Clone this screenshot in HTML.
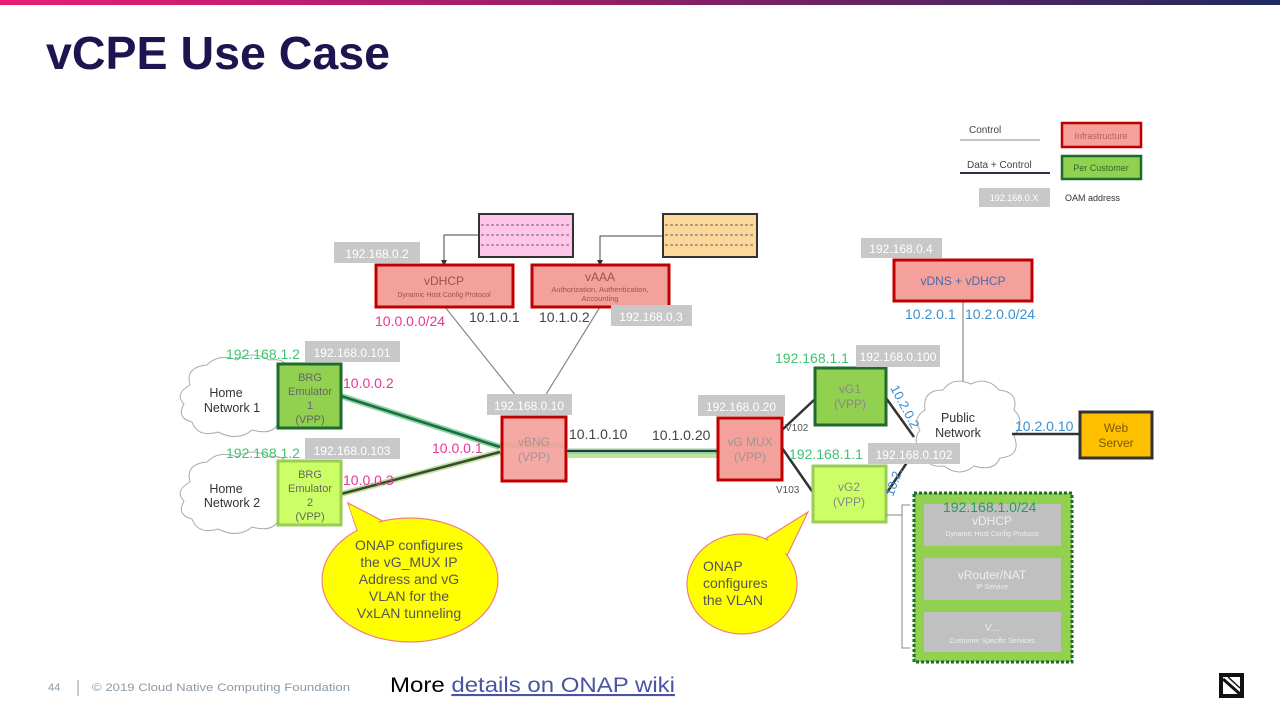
<!DOCTYPE html>
<html><head><meta charset="utf-8"><style>
body{margin:0;background:#fff}
svg{display:block;font-family:"Liberation Sans",sans-serif}
</style></head><body>
<svg width="1280" height="720" viewBox="0 0 1280 720" xmlns="http://www.w3.org/2000/svg">
<defs>
<linearGradient id="tb" x1="0" x2="1"><stop offset="0" stop-color="#e91e76"/><stop offset="0.5" stop-color="#8c1f64"/><stop offset="1" stop-color="#1f2a5e"/></linearGradient>
<marker id="ar" markerWidth="6" markerHeight="6" refX="3" refY="3" orient="auto"><path d="M0,0L6,3L0,6z" fill="#333"/></marker>
</defs>
<rect x="0" y="0" width="1280" height="5" fill="url(#tb)"/>
<text x="46" y="69" font-size="46" font-weight="bold" fill="#1f1450" textLength="344" lengthAdjust="spacingAndGlyphs">vCPE Use Case</text>

<!-- legend -->
<text x="969" y="133" font-size="10" fill="#444">Control</text>
<line x1="960" y1="140" x2="1040" y2="140" stroke="#888" stroke-width="1"/>
<text x="967" y="168" font-size="10" fill="#444">Data + Control</text>
<line x1="960" y1="173" x2="1050" y2="173" stroke="#2d2d50" stroke-width="2"/>
<rect x="1062" y="123" width="79" height="24" fill="#f4a09b" stroke="#c00000" stroke-width="2.5"/>
<text x="1101" y="139" font-size="9" fill="#c06060" text-anchor="middle">Infrastructure</text>
<rect x="1062" y="156" width="79" height="23" fill="#92d050" stroke="#1e6b2e" stroke-width="2.5"/>
<text x="1101" y="171" font-size="9" fill="#2d6b2d" text-anchor="middle">Per Customer</text>
<rect x="979" y="188" width="71" height="19" fill="#c8c8c8"/>
<text x="1014" y="201" font-size="9" fill="#fff" text-anchor="middle">192.168.0.X</text>
<text x="1065" y="201" font-size="9" fill="#333">OAM address</text>

<!-- top boxes -->
<rect x="479" y="214" width="94" height="43" fill="#ffc6ea" stroke="#333" stroke-width="2"/>
<g stroke="#666" stroke-dasharray="3,2"><line x1="481" y1="225" x2="571" y2="225"/><line x1="481" y1="235" x2="571" y2="235"/><line x1="481" y1="245" x2="571" y2="245"/></g>
<rect x="663" y="214" width="94" height="43" fill="#fcd89a" stroke="#333" stroke-width="2"/>
<g stroke="#666" stroke-dasharray="3,2"><line x1="665" y1="225" x2="755" y2="225"/><line x1="665" y1="235" x2="755" y2="235"/><line x1="665" y1="245" x2="755" y2="245"/></g>
<polyline points="479,235 444,235 444,263" fill="none" stroke="#444" stroke-width="1" marker-end="url(#ar)"/>
<polyline points="663,236 600,236 600,263" fill="none" stroke="#444" stroke-width="1" marker-end="url(#ar)"/>

<!-- control lines -->
<g stroke="#888" stroke-width="1.2">
<line x1="445" y1="307" x2="516" y2="396"/>
<line x1="600" y1="307" x2="545" y2="396"/>
<line x1="963" y1="301" x2="963" y2="392"/>
</g>

<rect x="376" y="265" width="137" height="42" fill="#f4a09b" stroke="#c00000" stroke-width="3"/>
<text x="444" y="285" font-size="12" fill="#a05050" text-anchor="middle">vDHCP</text>
<text x="444" y="297" font-size="7" fill="#a05050" text-anchor="middle">Dynamic Host Config Protocol</text>
<rect x="532" y="265" width="137" height="42" fill="#f4a09b" stroke="#c00000" stroke-width="3"/>
<text x="600" y="281" font-size="12" fill="#a05050" text-anchor="middle">vAAA</text>
<text x="600" y="292" font-size="7.5" fill="#a05050" text-anchor="middle">Authorization, Authentication,</text>
<text x="600" y="301" font-size="7.5" fill="#a05050" text-anchor="middle">Accounting</text>
<rect x="334" y="242" width="86" height="21" fill="#c8c8c8"/>
<text x="377" y="258" font-size="12" fill="#fff" text-anchor="middle">192.168.0.2</text>
<rect x="611" y="305" width="81" height="21" fill="#c8c8c8"/>
<text x="651" y="321" font-size="12" fill="#fff" text-anchor="middle">192.168.0.3</text>
<text x="375" y="326" font-size="14" fill="#e8359a">10.0.0.0/24</text>
<text x="469" y="322" font-size="14" fill="#444">10.1.0.1</text>
<text x="539" y="322" font-size="14" fill="#444">10.1.0.2</text>

<rect x="894" y="260" width="138" height="41" fill="#f4a09b" stroke="#c00000" stroke-width="3"/>
<text x="963" y="285" font-size="12" fill="#4a6aa8" text-anchor="middle">vDNS + vDHCP</text>
<rect x="861" y="238" width="81" height="20" fill="#c8c8c8"/>
<text x="901" y="253" font-size="12" fill="#fff" text-anchor="middle">192.168.0.4</text>
<text x="905" y="319" font-size="14" fill="#3b8fd0">10.2.0.1</text>
<text x="965" y="319" font-size="14" fill="#3b8fd0">10.2.0.0/24</text>

<!-- clouds -->
<g fill="#fff" stroke="#aaa" stroke-width="1">
<path d="M190,385 q-5,-18 17,-20 q12,-12 30,-5 q15,-10 32,0 q22,-3 20,18 q12,8 2,22 q8,18 -12,22 q-6,14 -27,8 q-14,12 -34,2 q-20,6 -26,-10 q-16,-4 -8,-18 q-10,-10 6,-19z"/>
<path d="M190,482 q-5,-18 17,-20 q12,-12 30,-5 q15,-10 32,0 q22,-3 20,18 q12,8 2,22 q8,18 -12,22 q-6,14 -27,8 q-14,12 -34,2 q-20,6 -26,-10 q-16,-4 -8,-18 q-10,-10 6,-19z"/>
<path d="M925,410 q-3,-20 18,-20 q10,-14 28,-6 q16,-8 28,6 q20,2 15,20 q12,12 0,26 q8,20 -14,22 q-6,14 -26,8 q-14,12 -30,0 q-20,2 -18,-14 q-16,-8 -6,-22 q-8,-12 5,-20z"/>
</g>
<text x="226" y="397" font-size="12.5" fill="#333" text-anchor="middle">Home</text>
<text x="232" y="412" font-size="12.5" fill="#333" text-anchor="middle">Network 1</text>
<text x="226" y="493" font-size="12.5" fill="#333" text-anchor="middle">Home</text>
<text x="232" y="507" font-size="12.5" fill="#333" text-anchor="middle">Network 2</text>
<text x="958" y="422" font-size="12.5" fill="#333" text-anchor="middle">Public</text>
<text x="958" y="437" font-size="12.5" fill="#333" text-anchor="middle">Network</text>

<!-- data lines -->
<line x1="568" y1="452" x2="717" y2="452" stroke="#8ad4a8" stroke-width="7"/>
<line x1="568" y1="456" x2="717" y2="456" stroke="#bfe3a0" stroke-width="4"/>
<line x1="566" y1="451" x2="717" y2="451" stroke="#333" stroke-width="2"/>
<line x1="341" y1="396" x2="500" y2="447" stroke="#8ad4a8" stroke-width="6"/>
<line x1="341" y1="396" x2="500" y2="447" stroke="#1e6b3e" stroke-width="2.5"/>
<line x1="341" y1="494" x2="500" y2="452" stroke="#bfe3a0" stroke-width="6"/>
<line x1="341" y1="494" x2="500" y2="452" stroke="#3a4a30" stroke-width="2.5"/>
<line x1="500" y1="445" x2="566" y2="445" stroke="#8ad4a8" stroke-width="6" opacity=".8"/>
<g stroke="#333" stroke-width="2.5">
<line x1="782" y1="430" x2="814" y2="400"/>
<line x1="782" y1="448" x2="814" y2="494"/>
<line x1="886" y1="398" x2="914" y2="437"/>
<line x1="886" y1="494" x2="912" y2="455"/>
<line x1="1012" y1="434" x2="1080" y2="434"/>
</g>

<!-- BRG -->
<rect x="278" y="364" width="63" height="64" fill="#92d050" stroke="#1e6b2e" stroke-width="3"/>
<text x="310" y="381" font-size="11" fill="#666" text-anchor="middle">BRG</text>
<text x="310" y="395" font-size="11" fill="#666" text-anchor="middle">Emulator</text>
<text x="310" y="409" font-size="11" fill="#666" text-anchor="middle">1</text>
<text x="310" y="423" font-size="11" fill="#666" text-anchor="middle">(VPP)</text>
<rect x="278" y="461" width="63" height="64" fill="#ccff66" stroke="#9acd54" stroke-width="3"/>
<text x="310" y="478" font-size="11" fill="#666" text-anchor="middle">BRG</text>
<text x="310" y="492" font-size="11" fill="#666" text-anchor="middle">Emulator</text>
<text x="310" y="506" font-size="11" fill="#666" text-anchor="middle">2</text>
<text x="310" y="520" font-size="11" fill="#666" text-anchor="middle">(VPP)</text>
<rect x="305" y="341" width="95" height="21" fill="#c8c8c8"/>
<text x="352" y="357" font-size="12" fill="#fff" text-anchor="middle">192.168.0.101</text>
<rect x="305" y="438" width="95" height="21" fill="#c8c8c8"/>
<text x="352" y="455" font-size="12" fill="#fff" text-anchor="middle">192.168.0.103</text>
<text x="226" y="359" font-size="14" fill="#3ec46e">192.168.1.2</text>
<text x="226" y="458" font-size="14" fill="#3ec46e">192.168.1.2</text>
<text x="343" y="388" font-size="14" fill="#e8359a">10.0.0.2</text>
<text x="343" y="485" font-size="14" fill="#e8359a">10.0.0.3</text>
<text x="432" y="453" font-size="14" fill="#e8359a">10.0.0.1</text>

<!-- vBNG -->
<rect x="502" y="417" width="64" height="64" fill="#f4a09b" fill-opacity=".9" stroke="#c00000" stroke-width="3"/>
<text x="534" y="446" font-size="12" fill="#999" text-anchor="middle">vBNG</text>
<text x="534" y="461" font-size="12" fill="#999" text-anchor="middle">(VPP)</text>
<rect x="487" y="394" width="85" height="21" fill="#c8c8c8"/>
<text x="529" y="410" font-size="12" fill="#fff" text-anchor="middle">192.168.0.10</text>
<text x="569" y="439" font-size="14" fill="#444">10.1.0.10</text>
<text x="652" y="440" font-size="14" fill="#444">10.1.0.20</text>

<!-- vG MUX -->
<rect x="718" y="418" width="64" height="62" fill="#f4a09b" stroke="#c00000" stroke-width="3"/>
<text x="750" y="446" font-size="12" fill="#999" text-anchor="middle">vG MUX</text>
<text x="750" y="461" font-size="12" fill="#999" text-anchor="middle">(VPP)</text>
<rect x="698" y="395" width="87" height="21" fill="#c8c8c8"/>
<text x="741" y="411" font-size="12" fill="#fff" text-anchor="middle">192.168.0.20</text>
<text x="785" y="431" font-size="10" fill="#555">V102</text>
<text x="776" y="493" font-size="10" fill="#555">V103</text>

<!-- vG1/vG2 -->
<rect x="815" y="368" width="71" height="57" fill="#92d050" stroke="#1e6b2e" stroke-width="3"/>
<text x="850" y="393" font-size="12" fill="#888" text-anchor="middle">vG1</text>
<text x="850" y="408" font-size="12" fill="#888" text-anchor="middle">(VPP)</text>
<rect x="813" y="466" width="73" height="56" fill="#ccff66" stroke="#9acd54" stroke-width="3"/>
<text x="849" y="491" font-size="12" fill="#888" text-anchor="middle">vG2</text>
<text x="849" y="506" font-size="12" fill="#888" text-anchor="middle">(VPP)</text>
<rect x="856" y="345" width="84" height="22" fill="#c8c8c8"/>
<text x="898" y="361" font-size="12" fill="#fff" text-anchor="middle">192.168.0.100</text>
<rect x="868" y="443" width="92" height="21" fill="#c8c8c8"/>
<text x="914" y="459" font-size="12" fill="#fff" text-anchor="middle">192.168.0.102</text>
<text x="775" y="363" font-size="14" fill="#3ec46e">192.168.1.1</text>
<text x="789" y="459" font-size="14" fill="#3ec46e">192.168.1.1</text>
<text x="890" y="388" font-size="13" fill="#3b8fd0" transform="rotate(62 890 388)">10.2.0.2</text>
<text x="893" y="497" font-size="13" fill="#3b8fd0" transform="rotate(-70 893 497)">10.2.</text>
<text x="1015" y="431" font-size="14" fill="#3b8fd0">10.2.0.10</text>

<rect x="1080" y="412" width="72" height="46" fill="#ffc000" stroke="#333" stroke-width="3"/>
<text x="1116" y="432" font-size="12" fill="#7a5a00" text-anchor="middle">Web</text>
<text x="1116" y="447" font-size="12" fill="#7a5a00" text-anchor="middle">Server</text>

<!-- bracket -->
<polyline points="910,505 902,505 902,648 910,648" fill="none" stroke="#888"/>
<line x1="886" y1="515" x2="902" y2="515" stroke="#888"/>

<!-- customer box -->
<rect x="914" y="493" width="158" height="169" fill="#92d050" stroke="#1e6b2e" stroke-width="3" stroke-dasharray="3,2"/>
<rect x="924" y="504" width="137" height="42" fill="#c0c0c0"/>
<rect x="924" y="558" width="137" height="42" fill="#c0c0c0"/>
<rect x="924" y="612" width="137" height="40" fill="#c0c0c0"/>
<text x="943" y="512" font-size="14" fill="#2d9a5a">192.168.1.0/24</text>
<text x="992" y="525" font-size="12" fill="#eee" text-anchor="middle">vDHCP</text>
<text x="992" y="536" font-size="7" fill="#eee" text-anchor="middle">Dynamic Host Config Protocol</text>
<text x="992" y="579" font-size="12" fill="#eee" text-anchor="middle">vRouter/NAT</text>
<text x="992" y="589" font-size="7" fill="#eee" text-anchor="middle">IP Service</text>
<text x="992" y="631" font-size="10" fill="#eee" text-anchor="middle">V...</text>
<text x="992" y="643" font-size="7" fill="#eee" text-anchor="middle">Customer Specific Services</text>

<!-- callouts -->
<polygon points="348,503 362,545 400,530" fill="#ffff00" stroke="#f08080" stroke-width="1.2"/>
<ellipse cx="410" cy="580" rx="88" ry="62" fill="#ffff00" stroke="#f08080" stroke-width="1.2"/>
<polygon points="349,506 364,548 398,533" fill="#ffff00"/>
<g font-size="14" fill="#555" text-anchor="middle">
<text x="409" y="550">ONAP configures</text>
<text x="409" y="567">the vG_MUX IP</text>
<text x="409" y="584">Address and vG</text>
<text x="409" y="601">VLAN for the</text>
<text x="409" y="618">VxLAN tunneling</text>
</g>
<polygon points="808,512 760,542 785,560" fill="#ffff00" stroke="#f08080" stroke-width="1.2"/>
<ellipse cx="742" cy="584" rx="55" ry="50" fill="#ffff00" stroke="#f08080" stroke-width="1.2"/>
<polygon points="805,516 762,544 783,558" fill="#ffff00"/>
<g font-size="14" fill="#555">
<text x="703" y="571">ONAP</text>
<text x="703" y="588">configures</text>
<text x="703" y="605">the VLAN</text>
</g>

<!-- footer -->
<text x="48" y="691" font-size="11" fill="#8a9aa8">44</text>
<line x1="78" y1="680" x2="78" y2="696" stroke="#8a9aa8"/>
<text x="92" y="691" font-size="11" fill="#8a9aa8" textLength="258" lengthAdjust="spacingAndGlyphs">© 2019 Cloud Native Computing Foundation</text>
<text x="390" y="692" font-size="21" fill="#000" textLength="285" lengthAdjust="spacingAndGlyphs">More <tspan fill="#4a55a2" text-decoration="underline">details on ONAP wiki</tspan></text>
<rect x="1219" y="673" width="25" height="25" fill="#111"/>
<rect x="1223" y="677" width="17" height="17" fill="#fff"/>
<line x1="1223" y1="679" x2="1240" y2="694" stroke="#111" stroke-width="3"/>
<line x1="1228" y1="677" x2="1240" y2="688" stroke="#111" stroke-width="1.5"/>
</svg>
</body></html>
